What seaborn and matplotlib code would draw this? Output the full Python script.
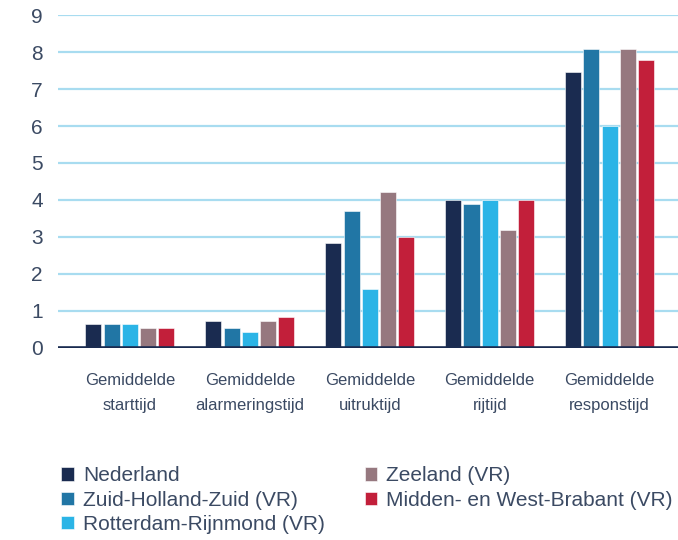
import matplotlib
matplotlib.use("Agg")
import pandas as pd
import matplotlib.pyplot as plt
import seaborn as sns

# Values
categories = ["Gemiddelde\nstarttijd", "Gemiddelde\nalarmeringstijd", "Gemiddelde\nuitruktijd",
              "Gemiddelde\nrijtijd", "Gemiddelde\nresponstijd"]
regions = ["Nederland", "Zuid-Holland-Zuid (VR)", "Rotterdam-Rijnmond (VR)",
           "Zeeland (VR)", "Midden- en West-Brabant (VR)"]
nederland = [0.65, 0.73, 2.84, 4.0, 7.46]
zuid_holland_zuid = [0.65, 0.54, 3.70, 3.89, 8.08]
rotterdam_rijnmond = [0.65, 0.43, 1.59, 4.0, 6.0]
zeeland = [0.54, 0.73, 4.22, 3.19, 8.08]
midden_west_brabant = [0.54, 0.84, 3.0, 4.0, 7.78]
colors = ["#1a2b50", "#2176a5", "#2bb4e6", "#96787f", "#c21f3a"]

series = [nederland, zuid_holland_zuid, rotterdam_rijnmond, zeeland, midden_west_brabant]
rows = []
for reg, vals in zip(regions, series):
    for cat, v in zip(categories, vals):
        rows.append({"categorie": cat, "regio": reg, "tijd": v})
df = pd.DataFrame(rows)

sns.set_theme(style="white")
plt.rcParams['font.family'] = ['Liberation Sans', 'DejaVu Sans']

text_col = "#3b4a63"

fig = plt.figure(figsize=(6.78, 5.40), dpi=100)
ax = fig.add_axes([0.0855, 0.3556, 0.9145, 0.6166])

sns.barplot(data=df, x="categorie", y="tijd", hue="regio", order=categories,
            hue_order=regions, palette=colors, width=0.76, gap=0.12,
            errorbar=None, ax=ax, saturation=1, edgecolor="white", linewidth=0.4)

ax.set_ylim(0, 9)
ax.set_xlim(-0.6, 4.57)
ax.set_yticks(range(10))
ax.yaxis.grid(True, color="#a8dcf0", lw=1.6)
ax.set_axisbelow(True)
ax.axhline(0, color="#1a2b50", lw=2.6, zorder=5)
for s in ax.spines.values():
    s.set_visible(False)

ax.set_xlabel("")
ax.set_ylabel("")
ax.tick_params(axis="y", length=0, pad=11, labelsize=15, labelcolor=text_col)
ax.tick_params(axis="x", length=0, pad=18, labelcolor=text_col)
for lab in ax.get_xticklabels():
    lab.set_fontsize(12)
    lab.set_linespacing(1.8)

handles, labels = ax.get_legend_handles_labels()
ax.get_legend().remove()
fig.legend(handles, labels, loc="upper left", bbox_to_anchor=(0.078, 0.152),
           ncol=2, frameon=False, fontsize=15, labelcolor=text_col,
           handlelength=0.6, handleheight=0.6, handletextpad=0.45,
           columnspacing=1.9, labelspacing=0.26, borderaxespad=0)

fig.savefig("out.png", dpi=100)
